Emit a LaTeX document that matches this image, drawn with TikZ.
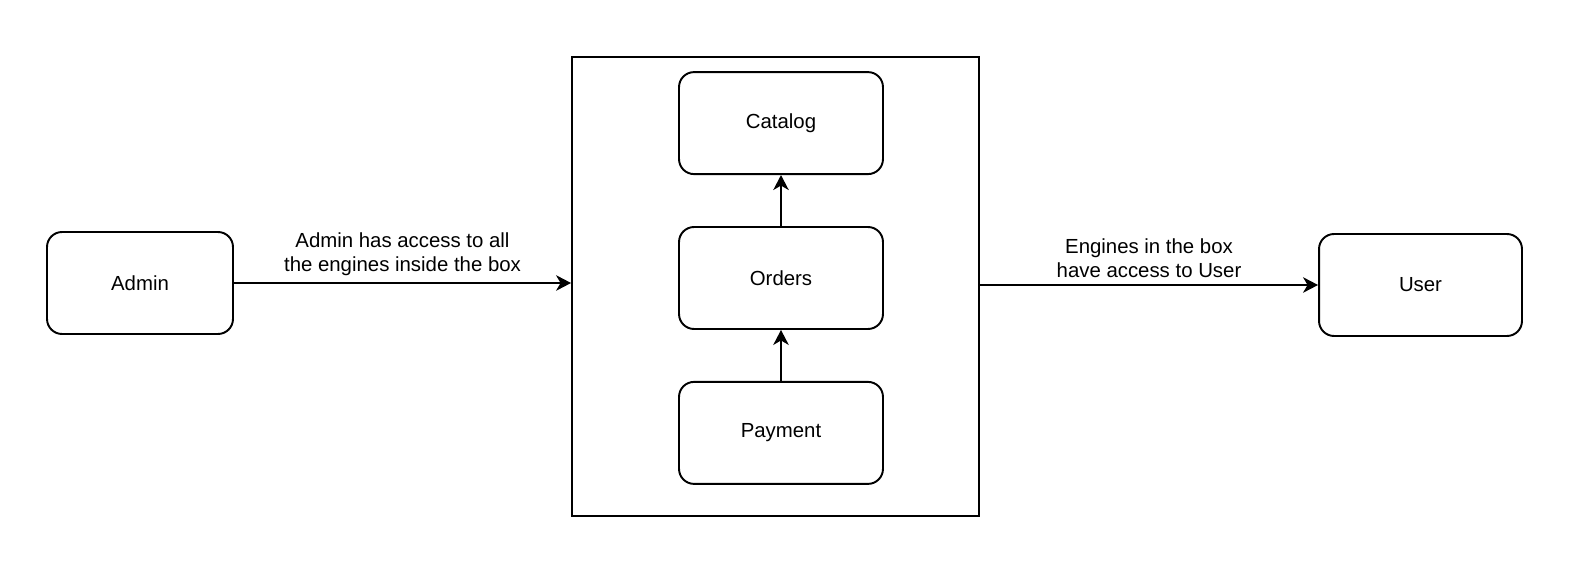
\documentclass[tikz,border=0pt]{standalone}
\usepackage{fontspec}
\setmainfont{Liberation Sans}
\usetikzlibrary{arrows.meta,positioning}
\tikzset{
  % path style with an arrow at the end
  arr/.style = {
    draw = black,
    line width = 1.1pt,
    -{Stealth[length=3mm,width=3.1mm,inset=0.9mm]}
  },
  % engine inside the box
  engine/.style = {
    draw = black,
    rectangle,
    rounded corners = 3mm,
    line width = 1.1pt,
    minimum width = 4.08cm,
    minimum height = 2.04cm
  },
  % actor outside the box
  actor/.style = {
    draw = black,
    rectangle,
    rounded corners = 3mm,
    line width = 1.1pt,
    minimum height = 2.04cm
  },
  % edge label
  lbl/.style = {
    align = center,
    font = \fontsize{11.6}{14}\selectfont
  },
  node distance = 1.02cm,
  font = \fontsize{11.6}{14}\selectfont
}
\begin{document}
\begin{tikzpicture}[x=0.02cm,y=-0.02cm]
    \useasboundingbox (-1,-1) rectangle (1571,583);

    \node[engine] (orders) at (780,277) {Orders};
    \node[engine] (catalog) [above=of orders] {Catalog};
    \node[engine] (payment) [below=of orders] {Payment};

    \node[draw, line width = 1.1pt, minimum width = 8.14cm,
      minimum height = 9.18cm] (box) at (774.5,285.5) {};

    \node[actor, minimum width = 3.72cm] (admin) at (139,282) {Admin};
    \node[actor, minimum width = 4.06cm] (user) at (1419.5,284) {User};

    % inner arrows
    \draw[arr] (payment) -- (orders);
    \draw[arr] (orders) -- (catalog);

    % outer arrows
    \draw[arr] (admin.east) -- (admin.east -| box.west)
      node[lbl, midway, above=0pt] {Admin has access to all\\the engines inside the box};
    \draw[arr] (box.east |- user.west) -- (user.west)
      node[lbl, midway, above=0pt] {Engines in the box\\have access to User};
\end{tikzpicture}
\end{document}
